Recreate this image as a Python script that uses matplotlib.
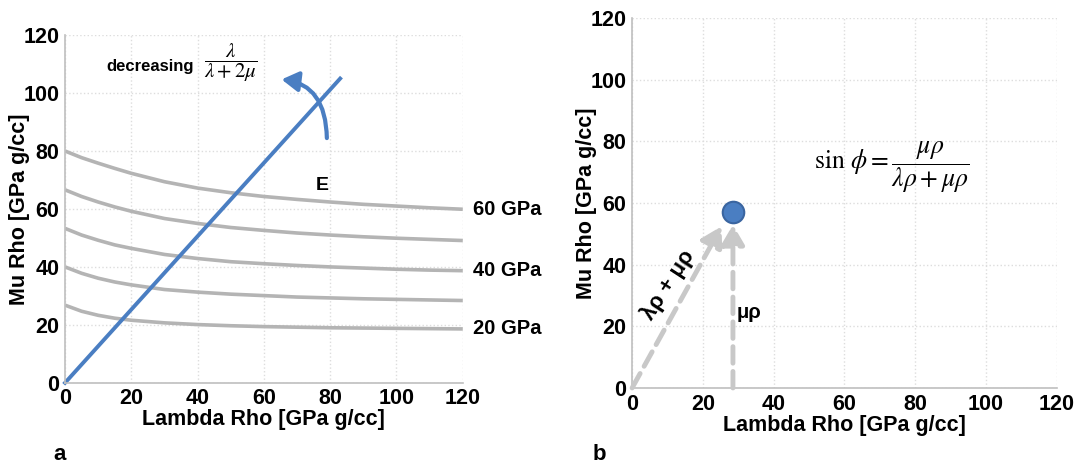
import matplotlib
matplotlib.use("Agg")
import matplotlib.pyplot as plt
from matplotlib.patches import FancyArrowPatch

plt.rcParams['font.family'] = ['Liberation Sans', 'DejaVu Sans']
plt.rcParams['mathtext.fontset'] = 'stix'

# panel a: constant-E contours
lam_x = [0, 5, 10, 15, 20, 30, 40, 50, 60, 70, 80, 90, 100, 110, 120]
e_curves = [
    [80.0, 77.7, 75.8, 74.0, 72.3, 69.4, 67.2, 65.6, 64.3, 63.3, 62.4, 61.6, 61.0, 60.4, 59.9],
    [66.6, 64.3, 62.4, 60.7, 59.2, 56.7, 55.0, 53.6, 52.6, 51.7, 51.0, 50.4, 49.9, 49.5, 49.1],
    [53.3, 51.0, 49.2, 47.6, 46.4, 44.3, 42.9, 41.8, 41.1, 40.5, 40.0, 39.6, 39.2, 38.9, 38.7],
    [40.0, 37.8, 36.1, 34.8, 33.8, 32.2, 31.3, 30.6, 30.1, 29.6, 29.3, 29.0, 28.8, 28.6, 28.4],
    [26.8, 24.7, 23.3, 22.3, 21.6, 20.7, 20.1, 19.7, 19.4, 19.2, 19.0, 18.9, 18.8, 18.7, 18.6],
]
e_labels = {0: "60 GPa", 2: "40 GPa", 4: "20 GPa"}
line_x = [0, 83]
line_y = [0, 105]

# panel b
pt_lam = 28.5
pt_mu = 57

blue = '#4a7ec2'
grey = '#b4b4b4'

fig = plt.figure(figsize=(10.75, 4.68), dpi=100)
ax1 = fig.add_axes([0.0605, 0.182, 0.370, 0.743])
ax2 = fig.add_axes([0.588, 0.171, 0.395, 0.790])


def style(ax):
    ax.set_xlim(0, 120)
    ax.set_ylim(0, 120)
    ax.set_xticks(range(0, 121, 20))
    ax.set_yticks(range(0, 121, 20))
    ax.grid(True, color='#dddddd', linestyle=':', linewidth=1)
    for s in ['top', 'right']:
        ax.spines[s].set_visible(False)
    for s in ['left', 'bottom']:
        ax.spines[s].set_color('#bfbfbf')
        ax.spines[s].set_linewidth(1.2)
    ax.tick_params(length=0, labelsize=15.5, pad=4)
    for t in ax.get_xticklabels() + ax.get_yticklabels():
        t.set_fontweight('bold')
    ax.set_xlabel('Lambda Rho [GPa g/cc]', fontsize=15.5, fontweight='bold', labelpad=0)
    ax.set_ylabel('Mu Rho [GPa g/cc]', fontsize=15.5, fontweight='bold', labelpad=-5)
    ax.set_axisbelow(True)


style(ax1)
style(ax2)

# ---- panel a ----
for i, ys in enumerate(e_curves):
    ax1.plot(lam_x, ys, color=grey, lw=2.6, solid_capstyle='butt', solid_joinstyle='round')
    if i in e_labels:
        ax1.text(123, ys[-1], e_labels[i], fontsize=14.5, fontweight='bold',
                 va='center', ha='left', clip_on=False)
ax1.plot(line_x, line_y, color=blue, lw=2.8, clip_on=False)
ax1.add_patch(FancyArrowPatch((79, 83.5), (64.5, 104.8),
                              connectionstyle='angle3,angleA=90,angleB=-5',
                              arrowstyle='-|>,head_length=10,head_width=6', color=blue,
                              lw=3, clip_on=False))
ax1.text(77.5, 68, 'E', fontsize=14, fontweight='bold', ha='center', va='center')
ax1.text(12.5, 109.3, 'decreasing', fontsize=12, fontweight='bold', ha='left', va='center')
ax1.text(42, 110.5, r'$\dfrac{\lambda}{\lambda+2\mu}$', fontsize=15, ha='left', va='center')

# ---- panel b ----
arrow_kw = dict(arrowstyle='-|>,head_length=1.2,head_width=0.7', color='#c8c8c8',
                lw=3.5, linestyle=(0, (3.4, 1.7)), shrinkA=0, shrinkB=0)
ax2.annotate('', xy=(25.3, 52.5), xytext=(0, 0), arrowprops=arrow_kw)
ax2.annotate('', xy=(pt_lam, 53), xytext=(pt_lam, 0), arrowprops=arrow_kw)
ax2.plot([pt_lam], [pt_mu], 'o', ms=15.5, color=blue, mec='#3a65a0', mew=1.5, zorder=5)
ax2.text(10.3, 33.5, 'λρ + μρ', fontsize=16, fontweight='bold', rotation=57,
         ha='center', va='center')
ax2.text(29.5, 24.5, 'μρ', fontsize=14.5, fontweight='bold', ha='left', va='center')
ax2.text(51.5, 71.5, r'$\sin\,\phi = \dfrac{\mu\rho}{\lambda\rho+\mu\rho}$', fontsize=18.5,
         ha='left', va='center')

fig.text(0.05, 0.018, 'a', fontsize=16, fontweight='bold', va='baseline')
fig.text(0.551, 0.018, 'b', fontsize=16, fontweight='bold', va='baseline')

fig.savefig('out.png', dpi=100)
